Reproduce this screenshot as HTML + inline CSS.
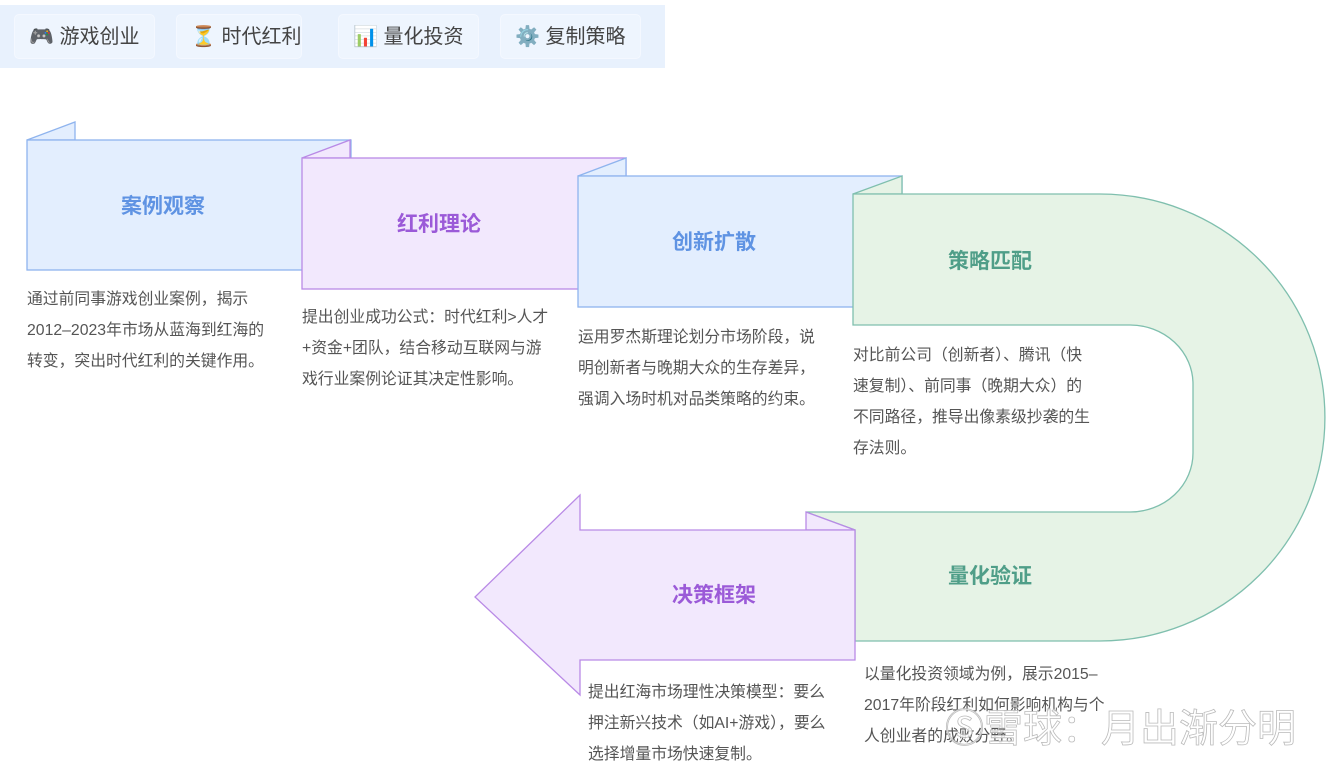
<!DOCTYPE html>
<html><head><meta charset="utf-8"><style>
html,body{margin:0;padding:0;background:#fff;}
body{width:1338px;height:768px;overflow:hidden;position:relative;font-family:"Liberation Sans","Noto Sans CJK SC",sans-serif;}
.bar{position:absolute;left:0;top:5px;width:665px;height:63px;background:#e8f1fd;}
.btn{position:absolute;top:14px;height:45px;border:1px solid #f4f8ff;background:#eef5fe;border-radius:5px;font-size:20px;color:#444;line-height:45px;box-sizing:border-box;padding-left:14px;white-space:nowrap;}
svg{position:absolute;left:0;top:0;}
</style></head><body>
<div class="bar"></div>
<div class="btn" style="left:14px;width:141px;">🎮 游戏创业</div>
<div class="btn" style="left:176px;width:126px;">⏳ 时代红利</div>
<div class="btn" style="left:338px;width:141px;">📊 量化投资</div>
<div class="btn" style="left:500px;width:141px;">⚙️ 复制策略</div>
<svg width="1338" height="768" viewBox="0 0 1338 768" font-family="Liberation Sans, Noto Sans CJK SC, sans-serif">
<polygon points="27,140 75,122 75,140" fill="#e3eefe" stroke="#8fb4ee" stroke-width="1.3"/>
<rect x="27" y="140" width="324" height="130" fill="#e3eefe" stroke="#8fb4ee" stroke-width="1.3"/>
<text x="163" y="213" font-size="21" font-weight="bold" fill="#5f93e3" text-anchor="middle">案例观察</text>
<polygon points="302,158 350,140 350,158" fill="#f2e8fd" stroke="#b98ae6" stroke-width="1.3"/>
<rect x="302" y="158" width="324" height="131" fill="#f2e8fd" stroke="#b98ae6" stroke-width="1.3"/>
<text x="439" y="231" font-size="21" font-weight="bold" fill="#9b5ad8" text-anchor="middle">红利理论</text>
<polygon points="578,176 626,158 626,176" fill="#e3eefe" stroke="#8fb4ee" stroke-width="1.3"/>
<rect x="578" y="176" width="324" height="131" fill="#e3eefe" stroke="#8fb4ee" stroke-width="1.3"/>
<text x="714" y="249" font-size="21" font-weight="bold" fill="#5f93e3" text-anchor="middle">创新扩散</text>
<polygon points="853,194 902,176 902,194" fill="#e6f3e6" stroke="#7fbfae" stroke-width="1.3"/>
<path d="M853,194 L1100,194 A225,223.5 0 0 1 1100,641 L855,641 L855,530 L806,512 L1130,512 A63,59 0 0 0 1193,453 L1193,384 A63,59 0 0 0 1130,325 L853,325 Z" fill="#e6f3e6" stroke="#7fbfae" stroke-width="1.3"/>
<text x="990" y="268" font-size="21" font-weight="bold" fill="#4f9e88" text-anchor="middle">策略匹配</text>
<text x="990" y="583" font-size="21" font-weight="bold" fill="#4f9e88" text-anchor="middle">量化验证</text>
<polygon points="806,512 855,530 806,530" fill="#f2e8fd" stroke="#b98ae6" stroke-width="1.3"/>
<polygon points="855,530 580,530 580,495 475,597 580,695 580,660 855,660" fill="#f2e8fd" stroke="#b98ae6" stroke-width="1.3"/>
<text x="714" y="602" font-size="21" font-weight="bold" fill="#9b5ad8" text-anchor="middle">决策框架</text>
<g font-size="15.8" fill="#555">
<text x="27" y="304">通过前同事游戏创业案例，揭示</text>
<text x="27" y="335">2012–2023年市场从蓝海到红海的</text>
<text x="27" y="366">转变，突出时代红利的关键作用。</text>
<text x="302" y="322">提出创业成功公式：时代红利&gt;人才</text>
<text x="302" y="353">+资金+团队，结合移动互联网与游</text>
<text x="302" y="384">戏行业案例论证其决定性影响。</text>
<text x="578" y="342">运用罗杰斯理论划分市场阶段，说</text>
<text x="578" y="373">明创新者与晚期大众的生存差异，</text>
<text x="578" y="404">强调入场时机对品类策略的约束。</text>
<text x="853" y="360">对比前公司（创新者）、腾讯（快</text>
<text x="853" y="391">速复制）、前同事（晚期大众）的</text>
<text x="853" y="422">不同路径，推导出像素级抄袭的生</text>
<text x="853" y="453">存法则。</text>
<text x="864" y="679">以量化投资领域为例，展示2015–</text>
<text x="864" y="710">2017年阶段红利如何影响机构与个</text>
<text x="864" y="741">人创业者的成败分野。</text>
<text x="588" y="697">提出红海市场理性决策模型：要么</text>
<text x="588" y="728">押注新兴技术（如AI+游戏），要么</text>
<text x="588" y="759">选择增量市场快速复制。</text>
</g>
<text x="945" y="742" font-size="39" fill="#ffffff" fill-opacity="0.8" stroke="#bbb" stroke-width="0.8">Ⓢ雪球：月出渐分明</text>
</svg>
</body></html>
